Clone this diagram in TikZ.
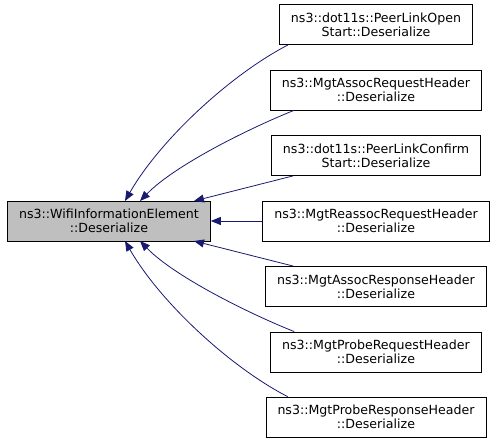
\documentclass[tikz,border=0pt]{standalone}
\usepackage{fontspec}
\setmainfont{DejaVu Sans}
\usetikzlibrary{arrows.meta}

\definecolor{edgeblue}{HTML}{191970}
\definecolor{mainfill}{HTML}{BFBFBF}

\tikzset{
    fn/.style={draw=black, line width=0.8pt, align=center, minimum height=40pt,
        inner xsep=11.5pt, font=\fontsize{12.6}{14}\selectfont},
    callarrow/.style={draw=edgeblue, line width=0.8pt,
        {Triangle[length=10pt,width=8pt]}-},
}

\begin{document}
\begin{tikzpicture}[x=1pt,y=-1pt]
    \useasboundingbox (0,0) rectangle (496,443);

    \def\xm{109}
    \def\xr{376}

    \def\ya{24.5}
    \def\yb{90}
    \def\yc{155.5}
    \def\yd{221}
    \def\ye{286.5}
    \def\yf{352}
    \def\yg{417}

    \node[fn, fill=mainfill] (wie) at (\xm,\yd) {ns3::WifiInformationElement\\::Deserialize};

    \node[fn] (plopen) at (\xr,\ya) {ns3::dot11s::PeerLinkOpen\\Start::Deserialize};
    \node[fn] (assocreq) at (\xr,\yb) {ns3::MgtAssocRequestHeader\\::Deserialize};
    \node[fn] (plconfirm) at (\xr,\yc) {ns3::dot11s::PeerLinkConfirm\\Start::Deserialize};
    \node[fn] (reassocreq) at (\xr,\yd) {ns3::MgtReassocRequestHeader\\::Deserialize};
    \node[fn] (assocresp) at (\xr,\ye) {ns3::MgtAssocResponseHeader\\::Deserialize};
    \node[fn] (probereq) at (\xr,\yf) {ns3::MgtProbeRequestHeader\\::Deserialize};
    \node[fn] (proberesp) at (\xr,\yg) {ns3::MgtProbeResponseHeader\\::Deserialize};

    \coordinate (ta) at (125,201);
    \coordinate (tb) at (140,201);
    \coordinate (tc) at (194,201);
    \coordinate (te) at (194,241);
    \coordinate (tf) at (140,241);
    \coordinate (tg) at (125,241);

    \draw[callarrow] (ta) .. controls (160,140) and (230,75) .. ([xshift=9pt]plopen.south west);
    \draw[callarrow] (tb) .. controls (175,165) and (250,128) .. ([xshift=24pt]assocreq.south west);
    \draw[callarrow] (tc) -- ([xshift=22pt]plconfirm.south west);
    \draw[callarrow] (wie) -- (reassocreq);
    \draw[callarrow] (te) -- ([xshift=28pt]assocresp.north west);
    \draw[callarrow] (tf) .. controls (175,277) and (250,314) .. ([xshift=24pt]probereq.north west);
    \draw[callarrow] (tg) .. controls (160,302) and (230,367) .. ([xshift=22pt]proberesp.north west);
\end{tikzpicture}
\end{document}
